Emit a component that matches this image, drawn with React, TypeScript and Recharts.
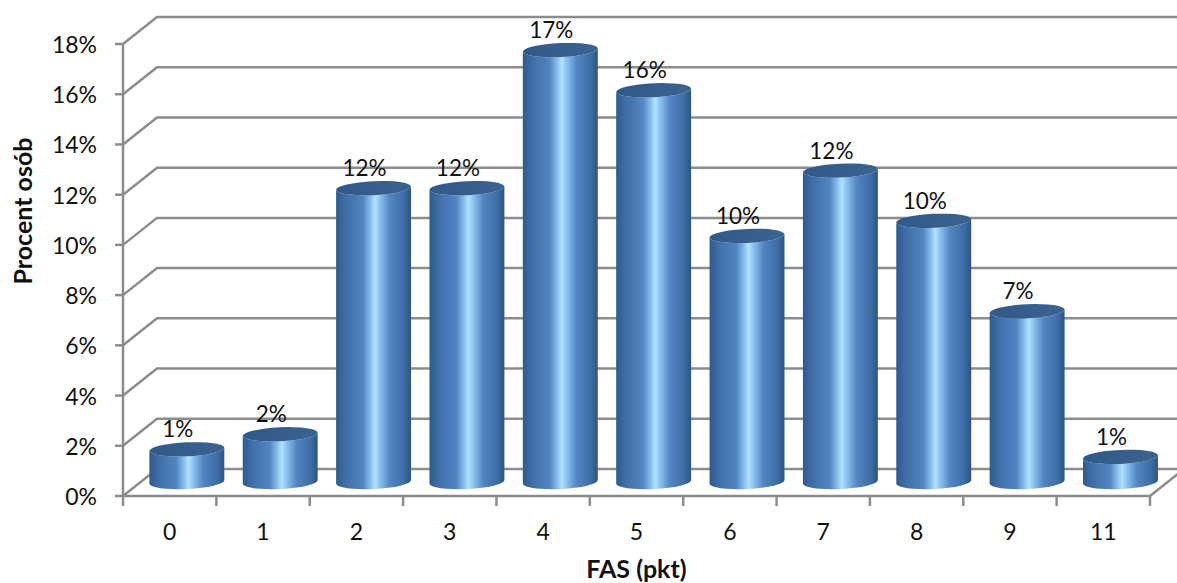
import React from 'react';
import {
  BarChart,
  Bar,
  XAxis,
  YAxis,
  CartesianGrid,
  LabelList,
} from 'recharts';

const scoreLabels = ['0', '1', '2', '3', '4', '5', '6', '7', '8', '9', '11'];
const sharePercent = [1.3, 1.9, 11.7, 11.7, 17.2, 15.6, 9.8, 12.4, 10.4, 6.8, 1.0];
const percentTicks = [0, 2, 4, 6, 8, 10, 12, 14, 16, 18];

const tableRows = scoreLabels.map((score, i) => ({ score, share: sharePercent[i] }));

const CHART_WIDTH = 1177;
const CHART_HEIGHT = 583;
const MARGIN_LEFT = 123;
const MARGIN_RIGHT = 27;
const MARGIN_TOP = 44;
const AXIS_BOTTOM = 87;
const AXIS_Y = CHART_HEIGHT - AXIS_BOTTOM;
const BAND = (CHART_WIDTH - MARGIN_LEFT - MARGIN_RIGHT) / scoreLabels.length;

// depth of the fake 3D floor
const DEPTH_X = 34;
const DEPTH_Y = 27;
const BAR_SHIFT_X = 17;
const BAR_SHIFT_Y = 14;
const RY = 7;
const TILT = 2.6;

const AXIS_GRAY = '#8c8c8c';
const LINE_WIDTH = 2.5;
const FONT = 'Lato, sans-serif';

// Wall line: up the side wall from the value axis, then along the back.
// The zero line also closes the right edge of the floor.
const WallLine = (props: any) => {
  const { x1, y1, x2, y2 } = props;
  const backY = y1 - DEPTH_Y;
  return (
    <g>
      <polyline
        points={`${x1},${y1} ${x1 + DEPTH_X},${backY} ${CHART_WIDTH},${backY}`}
        fill="none"
        stroke={AXIS_GRAY}
        strokeWidth={LINE_WIDTH}
      />
      {y1 > AXIS_Y - 2 && (
        <line
          x1={x2}
          y1={y2}
          x2={x2 + DEPTH_X}
          y2={y2 - DEPTH_Y}
          stroke={AXIS_GRAY}
          strokeWidth={LINE_WIDTH}
        />
      )}
    </g>
  );
};

const Cylinder = (props: any) => {
  const { x, y, width, height } = props;
  const rx = width / 2;
  const cx = x + rx + BAR_SHIFT_X;
  const topY = y - BAR_SHIFT_Y;
  const baseY = y + height - BAR_SHIFT_Y;
  const rad = (TILT * Math.PI) / 180;
  const dx = rx * Math.cos(rad);
  const dy = rx * Math.sin(rad);
  const body = [
    `M${cx - dx},${topY + dy}`,
    `A${rx},${RY} ${-TILT} 0 0 ${cx + dx},${topY - dy}`,
    `L${cx + dx},${baseY - dy}`,
    `A${rx},${RY} ${-TILT} 0 1 ${cx - dx},${baseY + dy}`,
    'Z',
  ].join(' ');
  return (
    <g>
      <path d={body} fill="url(#cylinderBody)" />
      <ellipse
        cx={cx}
        cy={topY}
        rx={rx}
        ry={RY}
        transform={`rotate(${-TILT} ${cx} ${topY})`}
        fill="url(#cylinderTop)"
      />
    </g>
  );
};

const ShareLabel = (props: any) => {
  const { x, y, width, value } = props;
  return (
    <text
      x={x + width / 2 + 8}
      y={y - 26}
      textAnchor="middle"
      fontFamily={FONT}
      fontSize={22.5}
      fill="#111"
    >
      {`${Math.round(value)}%`}
    </text>
  );
};

// Category tick: label in the middle of the band, tick marks on the band edges
const ScoreTick = (props: any) => {
  const { x, payload, index } = props;
  const left = x - BAND / 2;
  const right = x + BAND / 2;
  return (
    <g>
      <line x1={left} y1={AXIS_Y} x2={left} y2={AXIS_Y + 10} stroke={AXIS_GRAY} strokeWidth={LINE_WIDTH} />
      {index === scoreLabels.length - 1 && (
        <line x1={right} y1={AXIS_Y} x2={right} y2={AXIS_Y + 10} stroke={AXIS_GRAY} strokeWidth={LINE_WIDTH} />
      )}
      <text x={x} y={AXIS_Y + 44} textAnchor="middle" fontFamily={FONT} fontSize={23} fill="#111">
        {payload.value}
      </text>
    </g>
  );
};

const PercentTick = (props: any) => {
  const { x, y, payload } = props;
  return (
    <text x={x} y={y + 9} textAnchor="end" fontFamily={FONT} fontSize={23} fill="#111">
      {`${payload.value}%`}
    </text>
  );
};

const App: React.FC = () => (
  <div style={{ position: 'absolute', left: 0, top: 0, width: CHART_WIDTH, height: CHART_HEIGHT, background: '#fff' }}>
    <BarChart
      width={CHART_WIDTH}
      height={CHART_HEIGHT}
      data={tableRows}
      margin={{ top: MARGIN_TOP, right: MARGIN_RIGHT, bottom: 0, left: 0 }}
      barCategoryGap="10%"
    >
      <defs>
        <linearGradient id="cylinderBody" x1="0" y1="0" x2="1" y2="0">
          <stop offset="0%" stopColor="#2f5a8c" />
          <stop offset="12%" stopColor="#3f6ea6" />
          <stop offset="36%" stopColor="#5285c2" />
          <stop offset="47%" stopColor="#8cc4f0" />
          <stop offset="52%" stopColor="#b4e2ff" />
          <stop offset="58%" stopColor="#8cc4f0" />
          <stop offset="72%" stopColor="#5285c2" />
          <stop offset="90%" stopColor="#3f6ea6" />
          <stop offset="100%" stopColor="#2c5482" />
        </linearGradient>
        <linearGradient id="cylinderTop" x1="0" y1="0" x2="1" y2="0">
          <stop offset="0%" stopColor="#30598a" />
          <stop offset="100%" stopColor="#3b638f" />
        </linearGradient>
      </defs>

      <CartesianGrid vertical={false} horizontal={(p: any) => <WallLine key={p.key} {...p} />} />

      <XAxis
        dataKey="score"
        height={AXIS_BOTTOM}
        interval={0}
        tickLine={false}
        axisLine={{ stroke: AXIS_GRAY, strokeWidth: LINE_WIDTH }}
        tick={<ScoreTick />}
        label={{
          value: 'FAS (pkt)',
          position: 'insideBottom',
          offset: 5,
          style: { fontFamily: FONT, fontSize: 25, fontWeight: 700, fill: '#111' },
        }}
      />

      <YAxis
        width={MARGIN_LEFT}
        domain={[0, 18]}
        ticks={percentTicks}
        interval={0}
        tickSize={8}
        tickMargin={18}
        axisLine={{ stroke: AXIS_GRAY, strokeWidth: LINE_WIDTH }}
        tickLine={{ stroke: AXIS_GRAY, strokeWidth: LINE_WIDTH }}
        tick={<PercentTick />}
        label={{
          value: 'Procent osób',
          angle: -90,
          position: 'insideLeft',
          offset: 23,
          dy: -59,
          style: { fontFamily: FONT, fontSize: 25, fontWeight: 700, fill: '#111', textAnchor: 'middle' },
        }}
      />

      <Bar dataKey="share" shape={<Cylinder />} isAnimationActive={false}>
        <LabelList dataKey="share" content={<ShareLabel />} />
      </Bar>
    </BarChart>
  </div>
);

export default App;
